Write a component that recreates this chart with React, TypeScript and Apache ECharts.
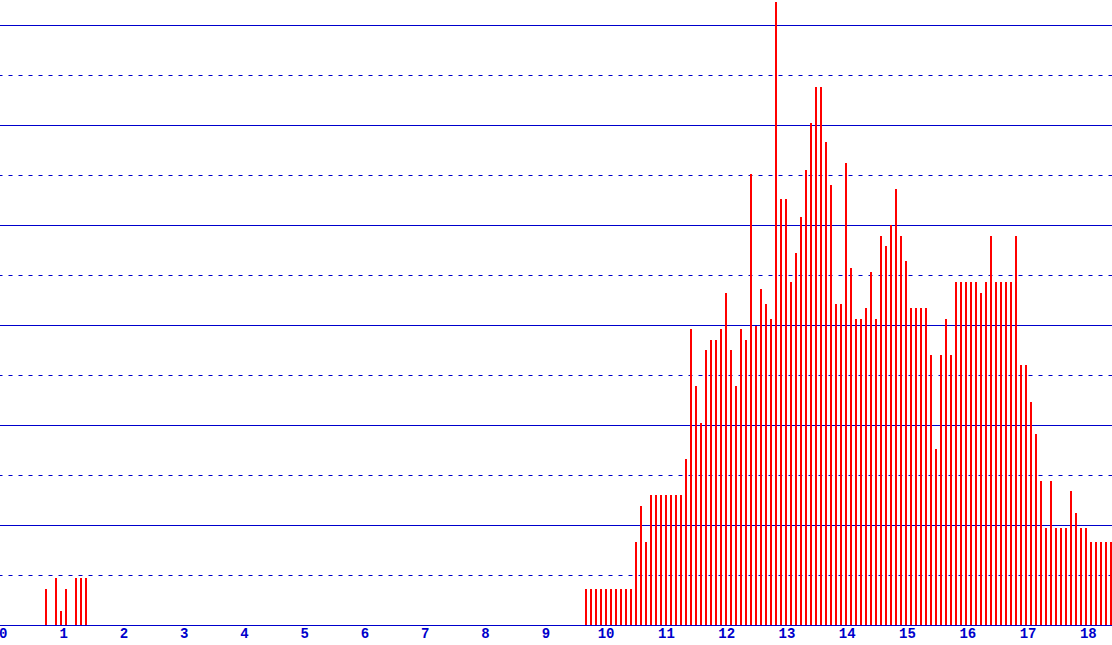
import React, { useEffect, useRef } from "react";
import * as echarts from "echarts";

// Bar heights per bin (bins are 1/12 of an x unit wide)
const binValues: number[] = [
  0, 0, 0, 0, 0, 0, 0, 0, 0, 7.2,
  0, 9.4, 2.8, 7.2, 0, 9.4, 9.4, 9.4, 0, 0,
  0, 0, 0, 0, 0, 0, 0, 0, 0, 0,
  0, 0, 0, 0, 0, 0, 0, 0, 0, 0,
  0, 0, 0, 0, 0, 0, 0, 0, 0, 0,
  0, 0, 0, 0, 0, 0, 0, 0, 0, 0,
  0, 0, 0, 0, 0, 0, 0, 0, 0, 0,
  0, 0, 0, 0, 0, 0, 0, 0, 0, 0,
  0, 0, 0, 0, 0, 0, 0, 0, 0, 0,
  0, 0, 0, 0, 0, 0, 0, 0, 0, 0,
  0, 0, 0, 0, 0, 0, 0, 0, 0, 0,
  0, 0, 0, 0, 0, 0, 0, 7.2, 7.2, 7.2,
  7.2, 7.2, 7.2, 7.2, 7.2, 7.2, 7.2, 16.6, 23.8, 16.6,
  26, 26, 26, 26, 26, 26, 26, 33.2, 59.2, 47.8,
  40.4, 55, 57, 57, 59.2, 66.4, 55, 47.8, 59.2, 57,
  90.2, 59.8, 67.2, 64.2, 61.2, 124.6, 85.2, 85.2, 68.6, 74.4,
  81.6, 91, 100.4, 107.6, 107.6, 96.6, 88, 64.2, 64.2, 92.4,
  71.4, 61.2, 61.2, 63.4, 70.6, 61.2, 77.8, 75.8, 80, 87.2,
  77.8, 72.8, 63.4, 63.4, 63.4, 63.4, 54, 35.2, 54, 61.2,
  54, 68.6, 68.6, 68.6, 68.6, 68.6, 66.4, 68.6, 77.8, 68.6,
  68.6, 68.6, 68.6, 77.8, 52, 52, 44.6, 38.2, 28.8, 19.4,
  28.8, 19.4, 19.4, 19.4, 26.8, 22.4, 19.4, 19.4, 16.6, 16.6,
  16.6, 16.6, 16.6,
];

const binCategories: string[] = binValues.map((_, i) => String(i));

// x-axis tick labels shown below the axis
const xTickLabels: number[] = [0, 1, 2, 3, 4, 5, 6, 7, 8, 9, 10, 11, 12, 13, 14, 15, 16, 17, 18];

const BLUE = "#0000cc";
const RED = "#ff0000";

export default function App() {
  const ref = useRef<HTMLDivElement>(null);

  useEffect(() => {
    if (!ref.current) return;
    const chart = echarts.init(ref.current, undefined, { renderer: "svg" });
    chart.setOption({
      animation: false,
      backgroundColor: "#ffffff",
      grid: {
        left: -1.5,
        right: -1.5,
        top: -2,
        bottom: 20,
        containLabel: false,
        outerBoundsMode: "none",
      },
      xAxis: [
        {
          type: "category",
          data: binCategories,
          boundaryGap: true,
          axisLine: { show: false },
          axisTick: { show: false },
          axisLabel: { show: false },
          splitLine: { show: false },
        },
        {
          type: "value",
          position: "bottom",
          min: -0.0796,
          max: 18.417,
          minInterval: 1,
          maxInterval: 1,
          splitNumber: 18,
          axisLine: { show: true, onZero: false, lineStyle: { color: BLUE, width: 1 } },
          axisTick: { show: false },
          splitLine: { show: false },
          axisLabel: {
            show: true,
            margin: 2,
            color: BLUE,
            fontFamily: "Liberation Mono",
            fontWeight: "bold",
            fontSize: 14,
            formatter: (v: number) =>
              xTickLabels.indexOf(Math.round(v * 1000) / 1000) >= 0 ? String(Math.round(v)) : "",
          },
        },
      ],
      yAxis: [
        {
          type: "value",
          min: 0,
          max: 125.4,
          interval: 20,
          axisLine: { show: false },
          axisTick: { show: false },
          axisLabel: { show: false },
          splitLine: { show: true, lineStyle: { color: BLUE, width: 1, type: "solid" } },
        },
        {
          type: "value",
          min: 0,
          max: 125.4,
          interval: 10,
          position: "right",
          axisLine: { show: false },
          axisTick: { show: false },
          axisLabel: { show: false },
          splitLine: { show: true, lineStyle: { color: BLUE, width: 1, type: [4, 6] } },
        },
      ],
      series: [
        {
          type: "bar",
          xAxisIndex: 0,
          yAxisIndex: 0,
          data: binValues,
          barWidth: 2,
          itemStyle: { color: RED },
          z: 5,
        },
      ],
    });
    return () => chart.dispose();
  }, []);

  return (
    <div
      ref={ref}
      style={{ position: "absolute", left: 0, top: 0, width: 1112, height: 645, background: "#fff" }}
    />
  );
}
